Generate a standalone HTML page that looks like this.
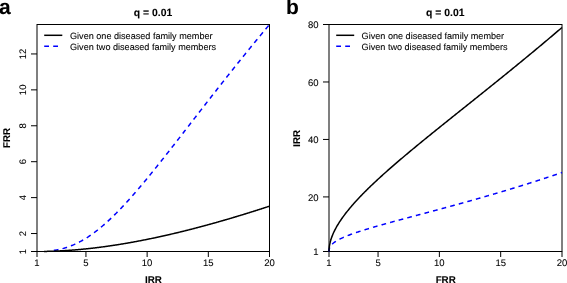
<!DOCTYPE html>
<html><head><meta charset="utf-8"><style>
html,body{margin:0;padding:0;background:#fff;}
svg{display:block;will-change:transform;}
text{font-family:"Liberation Sans",sans-serif;stroke:#000;stroke-width:0.08px;text-rendering:geometricPrecision;}
</style></head><body>
<svg width="567" height="283" viewBox="0 0 567 283">
<rect x="0" y="0" width="567" height="283" fill="#fff"/>
<text x="-1" y="14.1" font-size="21" font-weight="bold">a</text>
<text x="153" y="16" font-size="10.4" font-weight="bold" text-anchor="middle">q = 0.01</text>
<rect x="37.0" y="24.5" width="232.5" height="227.0" fill="none" stroke="#000" stroke-width="1"/>
<line x1="37.00" y1="251.5" x2="37.00" y2="257" stroke="#000" stroke-width="1"/>
<text x="37.00" y="266" font-size="9.5" text-anchor="middle">1</text>
<line x1="85.95" y1="251.5" x2="85.95" y2="257" stroke="#000" stroke-width="1"/>
<text x="85.95" y="266" font-size="9.5" text-anchor="middle">5</text>
<line x1="147.13" y1="251.5" x2="147.13" y2="257" stroke="#000" stroke-width="1"/>
<text x="147.13" y="266" font-size="9.5" text-anchor="middle">10</text>
<line x1="208.32" y1="251.5" x2="208.32" y2="257" stroke="#000" stroke-width="1"/>
<text x="208.32" y="266" font-size="9.5" text-anchor="middle">15</text>
<line x1="269.50" y1="251.5" x2="269.50" y2="257" stroke="#000" stroke-width="1"/>
<text x="269.50" y="266" font-size="9.5" text-anchor="middle">20</text>
<line x1="31" y1="251.50" x2="37.0" y2="251.50" stroke="#000" stroke-width="1"/>
<text transform="translate(26,251.50) rotate(-90)" x="0" y="0" font-size="9.5" text-anchor="middle">1</text>
<line x1="31" y1="233.54" x2="37.0" y2="233.54" stroke="#000" stroke-width="1"/>
<text transform="translate(26,233.54) rotate(-90)" x="0" y="0" font-size="9.5" text-anchor="middle">2</text>
<line x1="31" y1="197.62" x2="37.0" y2="197.62" stroke="#000" stroke-width="1"/>
<text transform="translate(26,197.62) rotate(-90)" x="0" y="0" font-size="9.5" text-anchor="middle">4</text>
<line x1="31" y1="161.70" x2="37.0" y2="161.70" stroke="#000" stroke-width="1"/>
<text transform="translate(26,161.70) rotate(-90)" x="0" y="0" font-size="9.5" text-anchor="middle">6</text>
<line x1="31" y1="125.78" x2="37.0" y2="125.78" stroke="#000" stroke-width="1"/>
<text transform="translate(26,125.78) rotate(-90)" x="0" y="0" font-size="9.5" text-anchor="middle">8</text>
<line x1="31" y1="89.86" x2="37.0" y2="89.86" stroke="#000" stroke-width="1"/>
<text transform="translate(26,89.86) rotate(-90)" x="0" y="0" font-size="9.5" text-anchor="middle">10</text>
<line x1="31" y1="53.94" x2="37.0" y2="53.94" stroke="#000" stroke-width="1"/>
<text transform="translate(26,53.94) rotate(-90)" x="0" y="0" font-size="9.5" text-anchor="middle">12</text>
<text x="153.5" y="282.6" font-size="9.8" font-weight="bold" text-anchor="middle">IRR</text>
<text transform="translate(10,138) rotate(-90)" x="0" y="0" font-size="9.8" font-weight="bold" text-anchor="middle">FRR</text>
<path d="M51.00,250.80 L51.55,250.74 L52.10,250.67 L52.64,250.60 L53.19,250.52 L53.74,250.44 L54.29,250.36 L54.83,250.27 L55.38,250.18 L55.93,250.09 L56.48,249.99 L57.02,249.89 L57.57,249.79 L58.12,249.68 L58.67,249.56 L59.21,249.45 L59.76,249.32 L60.31,249.20 L60.86,249.07 L61.40,248.93 L61.95,248.80 L62.50,248.65 L63.05,248.51 L63.60,248.35 L64.14,248.20 L64.69,248.04 L65.24,247.87 L65.79,247.70 L66.33,247.53 L66.88,247.35 L67.43,247.17 L67.98,246.98 L68.52,246.79 L69.07,246.59 L69.62,246.39 L70.17,246.19 L70.71,245.98 L71.26,245.76 L71.81,245.54 L72.36,245.32 L72.90,245.09 L73.45,244.86 L74.00,244.62 L74.55,244.38 L75.10,244.13 L75.64,243.88 L76.19,243.62 L76.74,243.36 L77.29,243.09 L77.83,242.82 L78.38,242.54 L78.93,242.26 L79.48,241.98 L80.02,241.69 L80.57,241.40 L81.12,241.10 L81.67,240.79 L82.21,240.49 L82.76,240.17 L83.31,239.86 L83.86,239.53 L84.40,239.21 L84.95,238.88 L85.50,238.54 L86.05,238.20 L86.60,237.86 L87.14,237.51 L87.69,237.15 L88.24,236.80 L88.79,236.43 L89.33,236.07 L89.88,235.70 L90.43,235.32 L90.98,234.94 L91.52,234.56 L92.07,234.17 L92.62,233.78 L93.17,233.38 L93.71,232.98 L94.26,232.57 L94.81,232.16 L95.36,231.75 L95.90,231.33 L96.45,230.91 L97.00,230.48 L97.55,230.05 L98.10,229.62 L98.64,229.18 L99.19,228.74 L99.74,228.29 L100.29,227.84 L100.83,227.39 L101.38,226.93 L101.93,226.47 L102.48,226.01 L103.02,225.54 L103.57,225.07 L104.12,224.59 L104.67,224.11 L105.21,223.63 L105.76,223.14 L106.31,222.65 L106.86,222.16 L107.40,221.66 L107.95,221.16 L108.50,220.65 L109.05,220.15 L109.60,219.64 L110.14,219.12 L110.69,218.60 L111.24,218.08 L111.79,217.56 L112.33,217.03 L112.88,216.50 L113.43,215.97 L113.98,215.43 L114.52,214.89 L115.07,214.35 L115.62,213.80 L116.17,213.26 L116.71,212.70 L117.26,212.15 L117.81,211.59 L118.36,211.03 L118.90,210.47 L119.45,209.90 L120.00,209.34 L120.55,208.77 L121.10,208.19 L121.64,207.62 L122.19,207.04 L122.74,206.46 L123.29,205.87 L123.83,205.29 L124.38,204.70 L124.93,204.11 L125.48,203.51 L126.02,202.92 L126.57,202.32 L127.12,201.72 L127.67,201.12 L128.21,200.51 L128.76,199.90 L129.31,199.29 L129.86,198.68 L130.40,198.07 L130.95,197.45 L131.50,196.84 L132.05,196.22 L132.60,195.59 L133.14,194.97 L133.69,194.35 L134.24,193.72 L134.79,193.09 L135.33,192.46 L135.88,191.82 L136.43,191.19 L136.98,190.55 L137.52,189.91 L138.07,189.27 L138.62,188.63 L139.17,187.99 L139.71,187.34 L140.26,186.70 L140.81,186.05 L141.36,185.40 L141.90,184.75 L142.45,184.10 L143.00,183.44 L143.55,182.79 L144.10,182.13 L144.64,181.47 L145.19,180.81 L145.74,180.15 L146.29,179.49 L146.83,178.82 L147.38,178.16 L147.93,177.49 L148.48,176.83 L149.02,176.16 L149.57,175.49 L150.12,174.82 L150.67,174.14 L151.21,173.47 L151.76,172.80 L152.31,172.12 L152.86,171.45 L153.40,170.77 L153.95,170.09 L154.50,169.41 L155.05,168.73 L155.60,168.05 L156.14,167.37 L156.69,166.68 L157.24,166.00 L157.79,165.32 L158.33,164.63 L158.88,163.94 L159.43,163.26 L159.98,162.57 L160.52,161.88 L161.07,161.19 L161.62,160.50 L162.17,159.81 L162.71,159.12 L163.26,158.43 L163.81,157.73 L164.36,157.04 L164.90,156.34 L165.45,155.65 L166.00,154.95 L166.55,154.26 L167.10,153.56 L167.64,152.87 L168.19,152.17 L168.74,151.47 L169.29,150.77 L169.83,150.07 L170.38,149.37 L170.93,148.67 L171.48,147.97 L172.02,147.27 L172.57,146.57 L173.12,145.87 L173.67,145.17 L174.21,144.47 L174.76,143.76 L175.31,143.06 L175.86,142.36 L176.40,141.65 L176.95,140.95 L177.50,140.25 L178.05,139.54 L178.60,138.84 L179.14,138.13 L179.69,137.43 L180.24,136.72 L180.79,136.02 L181.33,135.31 L181.88,134.61 L182.43,133.90 L182.98,133.19 L183.52,132.49 L184.07,131.78 L184.62,131.08 L185.17,130.37 L185.71,129.66 L186.26,128.96 L186.81,128.25 L187.36,127.54 L187.90,126.84 L188.45,126.13 L189.00,125.42 L189.55,124.72 L190.10,124.01 L190.64,123.30 L191.19,122.59 L191.74,121.89 L192.29,121.18 L192.83,120.47 L193.38,119.77 L193.93,119.06 L194.48,118.35 L195.02,117.65 L195.57,116.94 L196.12,116.23 L196.67,115.53 L197.21,114.82 L197.76,114.11 L198.31,113.41 L198.86,112.70 L199.40,112.00 L199.95,111.29 L200.50,110.59 L201.05,109.88 L201.60,109.17 L202.14,108.47 L202.69,107.77 L203.24,107.06 L203.79,106.36 L204.33,105.65 L204.88,104.95 L205.43,104.24 L205.98,103.54 L206.52,102.84 L207.07,102.13 L207.62,101.43 L208.17,100.73 L208.71,100.02 L209.26,99.32 L209.81,98.62 L210.36,97.92 L210.90,97.22 L211.45,96.52 L212.00,95.82 L212.55,95.11 L213.10,94.41 L213.64,93.71 L214.19,93.01 L214.74,92.32 L215.29,91.62 L215.83,90.92 L216.38,90.22 L216.93,89.52 L217.48,88.82 L218.02,88.13 L218.57,87.43 L219.12,86.73 L219.67,86.03 L220.21,85.34 L220.76,84.64 L221.31,83.95 L221.86,83.25 L222.40,82.56 L222.95,81.86 L223.50,81.17 L224.05,80.48 L224.60,79.78 L225.14,79.09 L225.69,78.40 L226.24,77.71 L226.79,77.01 L227.33,76.32 L227.88,75.63 L228.43,74.94 L228.98,74.25 L229.52,73.56 L230.07,72.87 L230.62,72.18 L231.17,71.50 L231.71,70.81 L232.26,70.12 L232.81,69.43 L233.36,68.75 L233.90,68.06 L234.45,67.38 L235.00,66.69 L235.55,66.01 L236.10,65.32 L236.64,64.64 L237.19,63.95 L237.74,63.27 L238.29,62.59 L238.83,61.91 L239.38,61.22 L239.93,60.54 L240.48,59.86 L241.02,59.18 L241.57,58.50 L242.12,57.82 L242.67,57.14 L243.21,56.47 L243.76,55.79 L244.31,55.11 L244.86,54.43 L245.40,53.76 L245.95,53.08 L246.50,52.41 L247.05,51.73 L247.60,51.06 L248.14,50.38 L248.69,49.71 L249.24,49.04 L249.79,48.36 L250.33,47.69 L250.88,47.02 L251.43,46.35 L251.98,45.68 L252.52,45.01 L253.07,44.34 L253.62,43.67 L254.17,43.00 L254.71,42.34 L255.26,41.67 L255.81,41.00 L256.36,40.33 L256.90,39.67 L257.45,39.00 L258.00,38.34 L258.55,37.67 L259.10,37.01 L259.64,36.35 L260.19,35.68 L260.74,35.02 L261.29,34.36 L261.83,33.70 L262.38,33.04 L262.93,32.38 L263.48,31.72 L264.02,31.06 L264.57,30.40 L265.12,29.74 L265.67,29.09 L266.21,28.43 L266.76,27.77 L267.31,27.12 L267.86,26.46 L268.40,25.81 L268.95,25.15 L269.50,24.50" fill="none" stroke="#0000ff" stroke-width="1.5" stroke-dasharray="4.74 4.15" stroke-dashoffset="6.073"/>
<path d="M44.00,251.44 L44.57,251.43 L45.13,251.42 L45.70,251.41 L46.26,251.40 L46.83,251.39 L47.39,251.37 L47.96,251.36 L48.52,251.35 L49.09,251.33 L49.65,251.31 L50.22,251.30 L50.78,251.28 L51.35,251.26 L51.91,251.24 L52.48,251.22 L53.04,251.20 L53.61,251.18 L54.17,251.16 L54.74,251.14 L55.30,251.11 L55.87,251.09 L56.43,251.07 L57.00,251.04 L57.56,251.01 L58.13,250.99 L58.69,250.96 L59.26,250.93 L59.82,250.90 L60.39,250.87 L60.95,250.84 L61.52,250.81 L62.09,250.78 L62.65,250.75 L63.22,250.72 L63.78,250.68 L64.35,250.65 L64.91,250.62 L65.48,250.58 L66.04,250.54 L66.61,250.51 L67.17,250.47 L67.74,250.43 L68.30,250.39 L68.87,250.35 L69.43,250.31 L70.00,250.27 L70.56,250.23 L71.13,250.19 L71.69,250.15 L72.26,250.11 L72.82,250.06 L73.39,250.02 L73.95,249.97 L74.52,249.93 L75.08,249.88 L75.65,249.83 L76.21,249.79 L76.78,249.74 L77.34,249.69 L77.91,249.64 L78.47,249.59 L79.04,249.54 L79.61,249.49 L80.17,249.44 L80.74,249.38 L81.30,249.33 L81.87,249.28 L82.43,249.22 L83.00,249.17 L83.56,249.11 L84.13,249.05 L84.69,249.00 L85.26,248.94 L85.82,248.88 L86.39,248.82 L86.95,248.76 L87.52,248.71 L88.08,248.64 L88.65,248.58 L89.21,248.52 L89.78,248.46 L90.34,248.40 L90.91,248.33 L91.47,248.27 L92.04,248.21 L92.60,248.14 L93.17,248.08 L93.73,248.01 L94.30,247.94 L94.86,247.88 L95.43,247.81 L95.99,247.74 L96.56,247.67 L97.13,247.60 L97.69,247.53 L98.26,247.46 L98.82,247.39 L99.39,247.32 L99.95,247.24 L100.52,247.17 L101.08,247.10 L101.65,247.02 L102.21,246.95 L102.78,246.87 L103.34,246.80 L103.91,246.72 L104.47,246.64 L105.04,246.57 L105.60,246.49 L106.17,246.41 L106.73,246.33 L107.30,246.25 L107.86,246.17 L108.43,246.09 L108.99,246.01 L109.56,245.93 L110.12,245.85 L110.69,245.76 L111.25,245.68 L111.82,245.60 L112.38,245.51 L112.95,245.43 L113.52,245.34 L114.08,245.26 L114.65,245.17 L115.21,245.08 L115.78,245.00 L116.34,244.91 L116.91,244.82 L117.47,244.73 L118.04,244.64 L118.60,244.55 L119.17,244.46 L119.73,244.37 L120.30,244.28 L120.86,244.19 L121.43,244.09 L121.99,244.00 L122.56,243.91 L123.12,243.81 L123.69,243.72 L124.25,243.62 L124.82,243.53 L125.38,243.43 L125.95,243.34 L126.51,243.24 L127.08,243.14 L127.64,243.04 L128.21,242.94 L128.77,242.85 L129.34,242.75 L129.90,242.65 L130.47,242.55 L131.04,242.45 L131.60,242.34 L132.17,242.24 L132.73,242.14 L133.30,242.04 L133.86,241.93 L134.43,241.83 L134.99,241.73 L135.56,241.62 L136.12,241.52 L136.69,241.41 L137.25,241.30 L137.82,241.20 L138.38,241.09 L138.95,240.98 L139.51,240.88 L140.08,240.77 L140.64,240.66 L141.21,240.55 L141.77,240.44 L142.34,240.33 L142.90,240.22 L143.47,240.11 L144.03,240.00 L144.60,239.88 L145.16,239.77 L145.73,239.66 L146.29,239.55 L146.86,239.43 L147.42,239.32 L147.99,239.20 L148.56,239.09 L149.12,238.97 L149.69,238.86 L150.25,238.74 L150.82,238.62 L151.38,238.51 L151.95,238.39 L152.51,238.27 L153.08,238.15 L153.64,238.03 L154.21,237.91 L154.77,237.80 L155.34,237.67 L155.90,237.55 L156.47,237.43 L157.03,237.31 L157.60,237.19 L158.16,237.07 L158.73,236.94 L159.29,236.82 L159.86,236.70 L160.42,236.57 L160.99,236.45 L161.55,236.33 L162.12,236.20 L162.68,236.07 L163.25,235.95 L163.81,235.82 L164.38,235.69 L164.94,235.57 L165.51,235.44 L166.08,235.31 L166.64,235.18 L167.21,235.05 L167.77,234.93 L168.34,234.80 L168.90,234.67 L169.47,234.54 L170.03,234.40 L170.60,234.27 L171.16,234.14 L171.73,234.01 L172.29,233.88 L172.86,233.74 L173.42,233.61 L173.99,233.48 L174.55,233.34 L175.12,233.21 L175.68,233.08 L176.25,232.94 L176.81,232.80 L177.38,232.67 L177.94,232.53 L178.51,232.40 L179.07,232.26 L179.64,232.12 L180.20,231.98 L180.77,231.85 L181.33,231.71 L181.90,231.57 L182.46,231.43 L183.03,231.29 L183.60,231.15 L184.16,231.01 L184.73,230.87 L185.29,230.73 L185.86,230.59 L186.42,230.44 L186.99,230.30 L187.55,230.16 L188.12,230.02 L188.68,229.87 L189.25,229.73 L189.81,229.59 L190.38,229.44 L190.94,229.30 L191.51,229.15 L192.07,229.01 L192.64,228.86 L193.20,228.72 L193.77,228.57 L194.33,228.42 L194.90,228.28 L195.46,228.13 L196.03,227.98 L196.59,227.83 L197.16,227.68 L197.72,227.53 L198.29,227.39 L198.85,227.24 L199.42,227.09 L199.98,226.94 L200.55,226.79 L201.12,226.63 L201.68,226.48 L202.25,226.33 L202.81,226.18 L203.38,226.03 L203.94,225.88 L204.51,225.72 L205.07,225.57 L205.64,225.42 L206.20,225.26 L206.77,225.11 L207.33,224.95 L207.90,224.80 L208.46,224.64 L209.03,224.49 L209.59,224.33 L210.16,224.18 L210.72,224.02 L211.29,223.86 L211.85,223.71 L212.42,223.55 L212.98,223.39 L213.55,223.23 L214.11,223.07 L214.68,222.92 L215.24,222.76 L215.81,222.60 L216.37,222.44 L216.94,222.28 L217.51,222.12 L218.07,221.96 L218.64,221.80 L219.20,221.64 L219.77,221.47 L220.33,221.31 L220.90,221.15 L221.46,220.99 L222.03,220.83 L222.59,220.66 L223.16,220.50 L223.72,220.34 L224.29,220.17 L224.85,220.01 L225.42,219.84 L225.98,219.68 L226.55,219.51 L227.11,219.35 L227.68,219.18 L228.24,219.02 L228.81,218.85 L229.37,218.68 L229.94,218.52 L230.50,218.35 L231.07,218.18 L231.63,218.02 L232.20,217.85 L232.76,217.68 L233.33,217.51 L233.89,217.34 L234.46,217.17 L235.03,217.00 L235.59,216.83 L236.16,216.66 L236.72,216.49 L237.29,216.32 L237.85,216.15 L238.42,215.98 L238.98,215.81 L239.55,215.64 L240.11,215.47 L240.68,215.30 L241.24,215.12 L241.81,214.95 L242.37,214.78 L242.94,214.60 L243.50,214.43 L244.07,214.26 L244.63,214.08 L245.20,213.91 L245.76,213.73 L246.33,213.56 L246.89,213.38 L247.46,213.21 L248.02,213.03 L248.59,212.86 L249.15,212.68 L249.72,212.51 L250.28,212.33 L250.85,212.15 L251.41,211.97 L251.98,211.80 L252.55,211.62 L253.11,211.44 L253.68,211.26 L254.24,211.08 L254.81,210.91 L255.37,210.73 L255.94,210.55 L256.50,210.37 L257.07,210.19 L257.63,210.01 L258.20,209.83 L258.76,209.65 L259.33,209.47 L259.89,209.29 L260.46,209.11 L261.02,208.92 L261.59,208.74 L262.15,208.56 L262.72,208.38 L263.28,208.20 L263.85,208.01 L264.41,207.83 L264.98,207.65 L265.54,207.46 L266.11,207.28 L266.67,207.10 L267.24,206.91 L267.80,206.73 L268.37,206.54 L268.93,206.36 L269.50,206.17" fill="none" stroke="#000" stroke-width="1.5"/>
<line x1="44.2" y1="35.3" x2="62.3" y2="35.3" stroke="#000" stroke-width="1.5"/>
<line x1="44.2" y1="46.2" x2="58.5" y2="46.2" stroke="#0000ff" stroke-width="1.5" stroke-dasharray="4.8 4.2"/>
<text x="70" y="38.6" font-size="9.1">Given one diseased family member</text>
<text x="70" y="49.5" font-size="9.1">Given two diseased family members</text>
<text x="286" y="14.1" font-size="21" font-weight="bold">b</text>
<text x="445.3" y="16" font-size="10.4" font-weight="bold" text-anchor="middle">q = 0.01</text>
<rect x="329.0" y="24.5" width="233.0" height="227.0" fill="none" stroke="#000" stroke-width="1"/>
<line x1="329.00" y1="251.5" x2="329.00" y2="257" stroke="#000" stroke-width="1"/>
<text x="329.00" y="266" font-size="9.5" text-anchor="middle">1</text>
<line x1="378.05" y1="251.5" x2="378.05" y2="257" stroke="#000" stroke-width="1"/>
<text x="378.05" y="266" font-size="9.5" text-anchor="middle">5</text>
<line x1="439.37" y1="251.5" x2="439.37" y2="257" stroke="#000" stroke-width="1"/>
<text x="439.37" y="266" font-size="9.5" text-anchor="middle">10</text>
<line x1="500.68" y1="251.5" x2="500.68" y2="257" stroke="#000" stroke-width="1"/>
<text x="500.68" y="266" font-size="9.5" text-anchor="middle">15</text>
<line x1="562.00" y1="251.5" x2="562.00" y2="257" stroke="#000" stroke-width="1"/>
<text x="562.00" y="266" font-size="9.5" text-anchor="middle">20</text>
<line x1="323" y1="251.50" x2="329.0" y2="251.50" stroke="#000" stroke-width="1"/>
<text x="318.6" y="255.30" font-size="9.5" text-anchor="end">1</text>
<line x1="323" y1="196.91" x2="329.0" y2="196.91" stroke="#000" stroke-width="1"/>
<text x="318.6" y="200.71" font-size="9.5" text-anchor="end">20</text>
<line x1="323" y1="139.44" x2="329.0" y2="139.44" stroke="#000" stroke-width="1"/>
<text x="318.6" y="143.24" font-size="9.5" text-anchor="end">40</text>
<line x1="323" y1="81.97" x2="329.0" y2="81.97" stroke="#000" stroke-width="1"/>
<text x="318.6" y="85.77" font-size="9.5" text-anchor="end">60</text>
<line x1="323" y1="24.50" x2="329.0" y2="24.50" stroke="#000" stroke-width="1"/>
<text x="318.6" y="28.30" font-size="9.5" text-anchor="end">80</text>
<text x="445.7" y="282.6" font-size="9.8" font-weight="bold" text-anchor="middle">FRR</text>
<text transform="translate(300,138.4) rotate(-90)" x="0" y="0" font-size="9.8" font-weight="bold" text-anchor="middle">IRR</text>
<path d="M329.00,251.50 L329.04,250.40 L329.08,249.99 L329.12,249.68 L329.17,249.43 L329.21,249.22 L329.25,249.02 L329.29,248.85 L329.33,248.69 L329.37,248.54 L329.42,248.40 L329.46,248.27 L329.50,248.15 L329.54,248.03 L329.58,247.92 L329.62,247.81 L329.67,247.70 L329.71,247.60 L329.75,247.51 L329.79,247.41 L329.83,247.32 L329.87,247.24 L329.91,247.15 L329.96,247.07 L330.00,246.99 L330.04,246.91 L330.08,246.83 L330.12,246.75 L330.16,246.68 L330.21,246.61 L330.25,246.54 L330.29,246.47 L330.33,246.40 L330.37,246.33 L330.41,246.27 L330.45,246.20 L330.50,246.14 L330.54,246.08 L330.58,246.01 L330.62,245.95 L330.66,245.89 L330.70,245.84 L330.75,245.78 L330.79,245.72 L330.83,245.66 L330.87,245.61 L330.91,245.55 L330.95,245.50 L331.00,245.45 L331.04,245.39 L331.08,245.34 L331.12,245.29 L331.16,245.24 L331.20,245.19 L331.24,245.14 L331.29,245.09 L331.33,245.04 L331.37,244.99 L331.41,244.94 L331.45,244.90 L332.03,244.28 L332.61,243.73 L333.19,243.23 L333.76,242.76 L334.34,242.33 L334.92,241.92 L335.50,241.53 L336.08,241.16 L336.65,240.80 L337.23,240.46 L337.81,240.13 L338.39,239.82 L338.96,239.51 L339.54,239.21 L340.12,238.92 L340.70,238.63 L341.28,238.36 L341.85,238.09 L342.43,237.82 L343.01,237.56 L343.59,237.31 L344.16,237.06 L344.74,236.81 L345.32,236.57 L345.90,236.33 L346.48,236.10 L347.05,235.87 L347.63,235.64 L348.21,235.41 L348.79,235.19 L349.36,234.97 L349.94,234.75 L350.52,234.54 L351.10,234.33 L351.68,234.12 L352.25,233.91 L352.83,233.71 L353.41,233.50 L353.99,233.30 L354.57,233.10 L355.14,232.90 L355.72,232.70 L356.30,232.51 L356.88,232.31 L357.45,232.12 L358.03,231.93 L358.61,231.74 L359.19,231.55 L359.77,231.36 L360.34,231.18 L360.92,230.99 L361.50,230.81 L362.08,230.63 L362.65,230.44 L363.23,230.26 L363.81,230.08 L364.39,229.90 L364.97,229.73 L365.54,229.55 L366.12,229.37 L366.70,229.20 L367.28,229.02 L367.85,228.85 L368.43,228.67 L369.01,228.50 L369.59,228.33 L370.17,228.16 L370.74,227.99 L371.32,227.82 L371.90,227.65 L372.48,227.48 L373.06,227.31 L373.63,227.14 L374.21,226.97 L374.79,226.81 L375.37,226.64 L375.94,226.47 L376.52,226.31 L377.10,226.14 L377.68,225.98 L378.26,225.81 L378.83,225.65 L379.41,225.49 L379.99,225.32 L380.57,225.16 L381.14,225.00 L381.72,224.84 L382.30,224.67 L382.88,224.51 L383.46,224.35 L384.03,224.19 L384.61,224.03 L385.19,223.87 L385.77,223.71 L386.34,223.55 L386.92,223.39 L387.50,223.23 L388.08,223.07 L388.66,222.92 L389.23,222.76 L389.81,222.60 L390.39,222.44 L390.97,222.28 L391.55,222.13 L392.12,221.97 L392.70,221.81 L393.28,221.65 L393.86,221.50 L394.43,221.34 L395.01,221.18 L395.59,221.03 L396.17,220.87 L396.75,220.72 L397.32,220.56 L397.90,220.40 L398.48,220.25 L399.06,220.09 L399.63,219.94 L400.21,219.78 L400.79,219.63 L401.37,219.47 L401.95,219.32 L402.52,219.16 L403.10,219.01 L403.68,218.85 L404.26,218.70 L404.83,218.54 L405.41,218.39 L405.99,218.23 L406.57,218.08 L407.15,217.92 L407.72,217.77 L408.30,217.62 L408.88,217.46 L409.46,217.31 L410.04,217.15 L410.61,217.00 L411.19,216.85 L411.77,216.69 L412.35,216.54 L412.92,216.38 L413.50,216.23 L414.08,216.08 L414.66,215.92 L415.24,215.77 L415.81,215.61 L416.39,215.46 L416.97,215.31 L417.55,215.15 L418.12,215.00 L418.70,214.84 L419.28,214.69 L419.86,214.54 L420.44,214.38 L421.01,214.23 L421.59,214.07 L422.17,213.92 L422.75,213.77 L423.32,213.61 L423.90,213.46 L424.48,213.30 L425.06,213.15 L425.64,213.00 L426.21,212.84 L426.79,212.69 L427.37,212.53 L427.95,212.38 L428.53,212.22 L429.10,212.07 L429.68,211.91 L430.26,211.76 L430.84,211.60 L431.41,211.45 L431.99,211.30 L432.57,211.14 L433.15,210.99 L433.73,210.83 L434.30,210.67 L434.88,210.52 L435.46,210.36 L436.04,210.21 L436.61,210.05 L437.19,209.90 L437.77,209.74 L438.35,209.59 L438.93,209.43 L439.50,209.28 L440.08,209.12 L440.66,208.96 L441.24,208.81 L441.81,208.65 L442.39,208.49 L442.97,208.34 L443.55,208.18 L444.13,208.03 L444.70,207.87 L445.28,207.71 L445.86,207.55 L446.44,207.40 L447.02,207.24 L447.59,207.08 L448.17,206.93 L448.75,206.77 L449.33,206.61 L449.90,206.45 L450.48,206.30 L451.06,206.14 L451.64,205.98 L452.22,205.82 L452.79,205.66 L453.37,205.50 L453.95,205.35 L454.53,205.19 L455.10,205.03 L455.68,204.87 L456.26,204.71 L456.84,204.55 L457.42,204.39 L457.99,204.23 L458.57,204.07 L459.15,203.91 L459.73,203.75 L460.30,203.59 L460.88,203.43 L461.46,203.27 L462.04,203.11 L462.62,202.95 L463.19,202.79 L463.77,202.63 L464.35,202.47 L464.93,202.31 L465.51,202.15 L466.08,201.99 L466.66,201.83 L467.24,201.66 L467.82,201.50 L468.39,201.34 L468.97,201.18 L469.55,201.02 L470.13,200.85 L470.71,200.69 L471.28,200.53 L471.86,200.36 L472.44,200.20 L473.02,200.04 L473.59,199.87 L474.17,199.71 L474.75,199.55 L475.33,199.38 L475.91,199.22 L476.48,199.06 L477.06,198.89 L477.64,198.73 L478.22,198.56 L478.79,198.40 L479.37,198.23 L479.95,198.07 L480.53,197.90 L481.11,197.74 L481.68,197.57 L482.26,197.40 L482.84,197.24 L483.42,197.07 L484.00,196.90 L484.57,196.74 L485.15,196.57 L485.73,196.40 L486.31,196.24 L486.88,196.07 L487.46,195.90 L488.04,195.73 L488.62,195.57 L489.20,195.40 L489.77,195.23 L490.35,195.06 L490.93,194.89 L491.51,194.72 L492.08,194.56 L492.66,194.39 L493.24,194.22 L493.82,194.05 L494.40,193.88 L494.97,193.71 L495.55,193.54 L496.13,193.37 L496.71,193.20 L497.28,193.03 L497.86,192.85 L498.44,192.68 L499.02,192.51 L499.60,192.34 L500.17,192.17 L500.75,192.00 L501.33,191.83 L501.91,191.65 L502.49,191.48 L503.06,191.31 L503.64,191.13 L504.22,190.96 L504.80,190.79 L505.37,190.61 L505.95,190.44 L506.53,190.27 L507.11,190.09 L507.69,189.92 L508.26,189.74 L508.84,189.57 L509.42,189.39 L510.00,189.22 L510.57,189.04 L511.15,188.87 L511.73,188.69 L512.31,188.52 L512.89,188.34 L513.46,188.16 L514.04,187.99 L514.62,187.81 L515.20,187.63 L515.77,187.46 L516.35,187.28 L516.93,187.10 L517.51,186.92 L518.09,186.74 L518.66,186.57 L519.24,186.39 L519.82,186.21 L520.40,186.03 L520.98,185.85 L521.55,185.67 L522.13,185.49 L522.71,185.31 L523.29,185.13 L523.86,184.95 L524.44,184.77 L525.02,184.59 L525.60,184.41 L526.18,184.23 L526.75,184.04 L527.33,183.86 L527.91,183.68 L528.49,183.50 L529.06,183.32 L529.64,183.13 L530.22,182.95 L530.80,182.77 L531.38,182.58 L531.95,182.40 L532.53,182.22 L533.11,182.03 L533.69,181.85 L534.26,181.66 L534.84,181.48 L535.42,181.29 L536.00,181.11 L536.58,180.92 L537.15,180.74 L537.73,180.55 L538.31,180.37 L538.89,180.18 L539.47,179.99 L540.04,179.81 L540.62,179.62 L541.20,179.43 L541.78,179.24 L542.35,179.06 L542.93,178.87 L543.51,178.68 L544.09,178.49 L544.67,178.30 L545.24,178.11 L545.82,177.92 L546.40,177.73 L546.98,177.54 L547.55,177.35 L548.13,177.16 L548.71,176.97 L549.29,176.78 L549.87,176.59 L550.44,176.40 L551.02,176.21 L551.60,176.02 L552.18,175.83 L552.75,175.63 L553.33,175.44 L553.91,175.25 L554.49,175.05 L555.07,174.86 L555.64,174.67 L556.22,174.47 L556.80,174.28 L557.38,174.09 L557.96,173.89 L558.53,173.70 L559.11,173.50 L559.69,173.31 L560.27,173.11 L560.84,172.91 L561.42,172.72 L562.00,172.52" fill="none" stroke="#0000ff" stroke-width="1.5" stroke-dasharray="4.74 4.15" stroke-dashoffset="0.64"/>
<path d="M329.00,251.50 L329.04,249.81 L329.08,249.10 L329.12,248.56 L329.17,248.10 L329.21,247.69 L329.25,247.32 L329.29,246.98 L329.33,246.66 L329.37,246.37 L329.42,246.08 L329.46,245.81 L329.50,245.55 L329.54,245.31 L329.58,245.07 L329.62,244.84 L329.67,244.61 L329.71,244.40 L329.75,244.18 L329.79,243.98 L329.83,243.78 L329.87,243.58 L329.91,243.39 L329.96,243.20 L330.00,243.02 L330.04,242.84 L330.08,242.66 L330.12,242.49 L330.16,242.32 L330.21,242.15 L330.25,241.99 L330.29,241.82 L330.33,241.66 L330.37,241.51 L330.41,241.35 L330.45,241.20 L330.50,241.04 L330.54,240.89 L330.58,240.75 L330.62,240.60 L330.66,240.46 L330.70,240.31 L330.75,240.17 L330.79,240.03 L330.83,239.90 L330.87,239.76 L330.91,239.62 L330.95,239.49 L331.00,239.36 L331.04,239.23 L331.08,239.10 L331.12,238.97 L331.16,238.84 L331.20,238.71 L331.24,238.59 L331.29,238.46 L331.33,238.34 L331.37,238.22 L331.41,238.10 L331.45,237.98 L332.03,236.39 L332.61,234.93 L333.19,233.57 L333.76,232.30 L334.34,231.09 L334.92,229.93 L335.50,228.82 L336.08,227.75 L336.65,226.72 L337.23,225.72 L337.81,224.75 L338.39,223.80 L338.96,222.88 L339.54,221.97 L340.12,221.09 L340.70,220.22 L341.28,219.38 L341.85,218.54 L342.43,217.72 L343.01,216.92 L343.59,216.13 L344.16,215.35 L344.74,214.58 L345.32,213.82 L345.90,213.07 L346.48,212.33 L347.05,211.59 L347.63,210.87 L348.21,210.16 L348.79,209.45 L349.36,208.75 L349.94,208.05 L350.52,207.37 L351.10,206.69 L351.68,206.01 L352.25,205.34 L352.83,204.68 L353.41,204.02 L353.99,203.37 L354.57,202.73 L355.14,202.08 L355.72,201.45 L356.30,200.81 L356.88,200.18 L357.45,199.56 L358.03,198.94 L358.61,198.32 L359.19,197.71 L359.77,197.10 L360.34,196.49 L360.92,195.89 L361.50,195.29 L362.08,194.70 L362.65,194.10 L363.23,193.51 L363.81,192.93 L364.39,192.34 L364.97,191.76 L365.54,191.18 L366.12,190.61 L366.70,190.03 L367.28,189.46 L367.85,188.90 L368.43,188.33 L369.01,187.77 L369.59,187.21 L370.17,186.65 L370.74,186.09 L371.32,185.53 L371.90,184.98 L372.48,184.43 L373.06,183.88 L373.63,183.34 L374.21,182.79 L374.79,182.25 L375.37,181.71 L375.94,181.17 L376.52,180.63 L377.10,180.09 L377.68,179.56 L378.26,179.02 L378.83,178.49 L379.41,177.96 L379.99,177.43 L380.57,176.91 L381.14,176.38 L381.72,175.86 L382.30,175.33 L382.88,174.81 L383.46,174.29 L384.03,173.77 L384.61,173.26 L385.19,172.74 L385.77,172.22 L386.34,171.71 L386.92,171.20 L387.50,170.68 L388.08,170.17 L388.66,169.66 L389.23,169.16 L389.81,168.65 L390.39,168.14 L390.97,167.64 L391.55,167.13 L392.12,166.63 L392.70,166.12 L393.28,165.62 L393.86,165.12 L394.43,164.62 L395.01,164.12 L395.59,163.62 L396.17,163.13 L396.75,162.63 L397.32,162.13 L397.90,161.64 L398.48,161.15 L399.06,160.65 L399.63,160.16 L400.21,159.67 L400.79,159.18 L401.37,158.69 L401.95,158.20 L402.52,157.71 L403.10,157.22 L403.68,156.73 L404.26,156.24 L404.83,155.76 L405.41,155.27 L405.99,154.78 L406.57,154.30 L407.15,153.82 L407.72,153.33 L408.30,152.85 L408.88,152.37 L409.46,151.88 L410.04,151.40 L410.61,150.92 L411.19,150.44 L411.77,149.96 L412.35,149.48 L412.92,149.00 L413.50,148.52 L414.08,148.05 L414.66,147.57 L415.24,147.09 L415.81,146.62 L416.39,146.14 L416.97,145.66 L417.55,145.19 L418.12,144.71 L418.70,144.24 L419.28,143.76 L419.86,143.29 L420.44,142.82 L421.01,142.34 L421.59,141.87 L422.17,141.40 L422.75,140.93 L423.32,140.45 L423.90,139.98 L424.48,139.51 L425.06,139.04 L425.64,138.57 L426.21,138.10 L426.79,137.63 L427.37,137.16 L427.95,136.69 L428.53,136.22 L429.10,135.75 L429.68,135.29 L430.26,134.82 L430.84,134.35 L431.41,133.88 L431.99,133.41 L432.57,132.95 L433.15,132.48 L433.73,132.01 L434.30,131.55 L434.88,131.08 L435.46,130.61 L436.04,130.15 L436.61,129.68 L437.19,129.22 L437.77,128.75 L438.35,128.29 L438.93,127.82 L439.50,127.36 L440.08,126.89 L440.66,126.43 L441.24,125.96 L441.81,125.50 L442.39,125.03 L442.97,124.57 L443.55,124.11 L444.13,123.64 L444.70,123.18 L445.28,122.72 L445.86,122.25 L446.44,121.79 L447.02,121.33 L447.59,120.86 L448.17,120.40 L448.75,119.94 L449.33,119.48 L449.90,119.01 L450.48,118.55 L451.06,118.09 L451.64,117.63 L452.22,117.16 L452.79,116.70 L453.37,116.24 L453.95,115.78 L454.53,115.31 L455.10,114.85 L455.68,114.39 L456.26,113.93 L456.84,113.47 L457.42,113.01 L457.99,112.54 L458.57,112.08 L459.15,111.62 L459.73,111.16 L460.30,110.70 L460.88,110.24 L461.46,109.77 L462.04,109.31 L462.62,108.85 L463.19,108.39 L463.77,107.93 L464.35,107.47 L464.93,107.00 L465.51,106.54 L466.08,106.08 L466.66,105.62 L467.24,105.16 L467.82,104.70 L468.39,104.23 L468.97,103.77 L469.55,103.31 L470.13,102.85 L470.71,102.39 L471.28,101.93 L471.86,101.46 L472.44,101.00 L473.02,100.54 L473.59,100.08 L474.17,99.62 L474.75,99.15 L475.33,98.69 L475.91,98.23 L476.48,97.77 L477.06,97.31 L477.64,96.84 L478.22,96.38 L478.79,95.92 L479.37,95.46 L479.95,94.99 L480.53,94.53 L481.11,94.07 L481.68,93.60 L482.26,93.14 L482.84,92.68 L483.42,92.22 L484.00,91.75 L484.57,91.29 L485.15,90.83 L485.73,90.36 L486.31,89.90 L486.88,89.43 L487.46,88.97 L488.04,88.51 L488.62,88.04 L489.20,87.58 L489.77,87.11 L490.35,86.65 L490.93,86.18 L491.51,85.72 L492.08,85.26 L492.66,84.79 L493.24,84.33 L493.82,83.86 L494.40,83.39 L494.97,82.93 L495.55,82.46 L496.13,82.00 L496.71,81.53 L497.28,81.07 L497.86,80.60 L498.44,80.13 L499.02,79.67 L499.60,79.20 L500.17,78.73 L500.75,78.27 L501.33,77.80 L501.91,77.33 L502.49,76.86 L503.06,76.40 L503.64,75.93 L504.22,75.46 L504.80,74.99 L505.37,74.52 L505.95,74.06 L506.53,73.59 L507.11,73.12 L507.69,72.65 L508.26,72.18 L508.84,71.71 L509.42,71.24 L510.00,70.77 L510.57,70.30 L511.15,69.83 L511.73,69.36 L512.31,68.89 L512.89,68.42 L513.46,67.95 L514.04,67.48 L514.62,67.00 L515.20,66.53 L515.77,66.06 L516.35,65.59 L516.93,65.12 L517.51,64.64 L518.09,64.17 L518.66,63.70 L519.24,63.23 L519.82,62.75 L520.40,62.28 L520.98,61.81 L521.55,61.33 L522.13,60.86 L522.71,60.38 L523.29,59.91 L523.86,59.43 L524.44,58.96 L525.02,58.48 L525.60,58.01 L526.18,57.53 L526.75,57.05 L527.33,56.58 L527.91,56.10 L528.49,55.62 L529.06,55.15 L529.64,54.67 L530.22,54.19 L530.80,53.71 L531.38,53.24 L531.95,52.76 L532.53,52.28 L533.11,51.80 L533.69,51.32 L534.26,50.84 L534.84,50.36 L535.42,49.88 L536.00,49.40 L536.58,48.92 L537.15,48.44 L537.73,47.96 L538.31,47.48 L538.89,46.99 L539.47,46.51 L540.04,46.03 L540.62,45.55 L541.20,45.07 L541.78,44.58 L542.35,44.10 L542.93,43.61 L543.51,43.13 L544.09,42.65 L544.67,42.16 L545.24,41.68 L545.82,41.19 L546.40,40.71 L546.98,40.22 L547.55,39.73 L548.13,39.25 L548.71,38.76 L549.29,38.27 L549.87,37.79 L550.44,37.30 L551.02,36.81 L551.60,36.32 L552.18,35.83 L552.75,35.35 L553.33,34.86 L553.91,34.37 L554.49,33.88 L555.07,33.39 L555.64,32.90 L556.22,32.41 L556.80,31.91 L557.38,31.42 L557.96,30.93 L558.53,30.44 L559.11,29.95 L559.69,29.45 L560.27,28.96 L560.84,28.47 L561.42,27.97 L562.00,27.48" fill="none" stroke="#000" stroke-width="1.5"/>
<line x1="336.2" y1="35.3" x2="354.2" y2="35.3" stroke="#000" stroke-width="1.5"/>
<line x1="336.2" y1="46.2" x2="350.5" y2="46.2" stroke="#0000ff" stroke-width="1.5" stroke-dasharray="4.8 4.2"/>
<text x="361.6" y="38.6" font-size="9.1">Given one diseased family member</text>
<text x="361.6" y="49.5" font-size="9.1">Given two diseased family members</text>
</svg>
</body></html>
